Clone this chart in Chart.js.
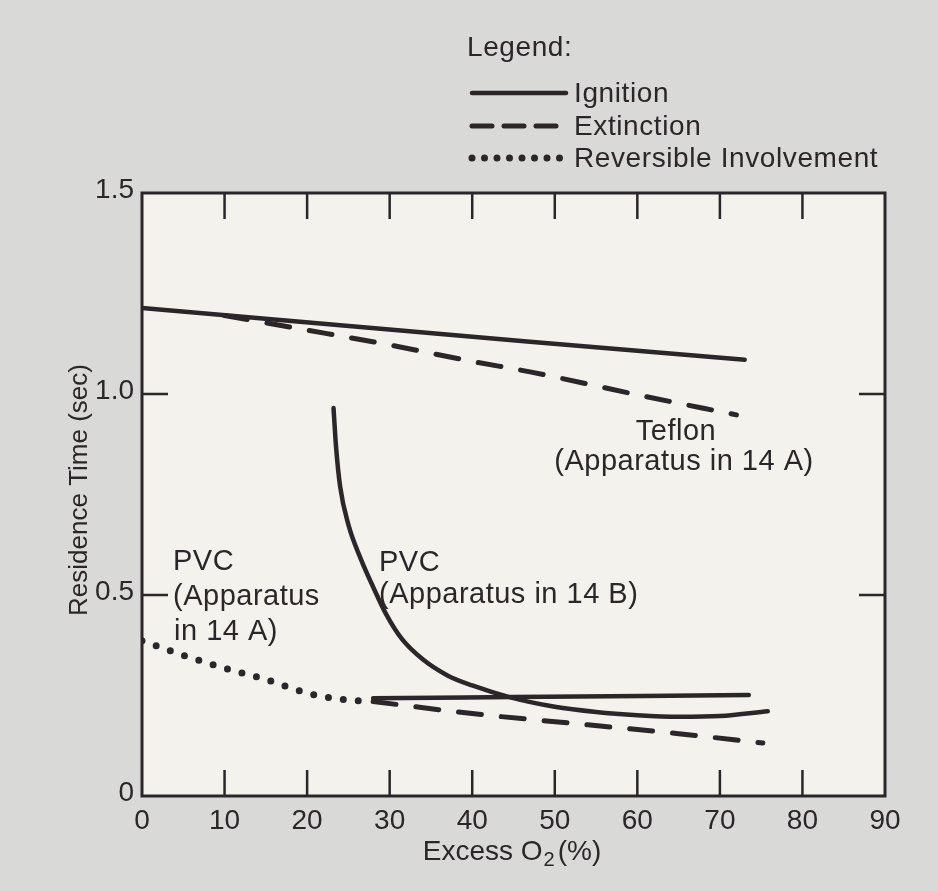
<!DOCTYPE html>
<html>
<head>
<meta charset="utf-8">
<script src="https://cdn.jsdelivr.net/npm/chart.js@4.4.1/dist/chart.umd.min.js"></script>
<style>
  html, body { margin: 0; padding: 0; background: #d9d9d8; }
  canvas { display: block; }
</style>
</head>
<body>
<canvas id="chart" width="938" height="891"></canvas>
<script>
// axis ticks
const xTicks = [0, 10, 20, 30, 40, 50, 60, 70, 80, 90];
const yTicks = [0, 0.5, 1.0, 1.5];
const yTickLabels = ['0', '0.5', '1.0', '1.5'];

// Teflon (apparatus 14 A)
const teflonIgnX = [0, 47, 73];
const teflonIgnY = [1.214, 1.13, 1.085];
const teflonExtX = [10, 20, 30, 40, 47, 60, 72];
const teflonExtY = [1.195, 1.159, 1.122, 1.081, 1.055, 0.998, 0.948];

// PVC (apparatus 14 B)
const pvcBCurveX = [23.2, 23.5, 24, 25, 26.5, 28, 29.5, 31.5, 34, 37, 40, 44.5, 50, 55, 60, 65, 70, 75.8];
const pvcBCurveY = [0.965, 0.87, 0.77, 0.675, 0.59, 0.52, 0.455, 0.39, 0.34, 0.3, 0.275, 0.246, 0.222, 0.209, 0.201, 0.197, 0.199, 0.211];
const pvcBIgnX = [28, 45, 73.5];
const pvcBIgnY = [0.243, 0.246, 0.251];
const pvcBExtX = [28, 40, 54, 65, 75.2];
const pvcBExtY = [0.235, 0.205, 0.177, 0.155, 0.132];

// PVC (apparatus 14 A) reversible involvement
const pvcARevX = [0, 5, 10, 15, 20, 24, 28];
const pvcARevY = [0.386, 0.35, 0.318, 0.29, 0.256, 0.241, 0.235];

const INK = '#2b2728';
const FONT = '"Liberation Sans", Arial, sans-serif';
const SOLID = [];
const DASH = [23, 20];
const DOTS = [0, 15];

function pts(xs, ys) {
    return xs.map((x, i) => ({ x: x, y: ys[i] }));
}

function series(xs, ys, dash, width) {
    return {
        data: pts(xs, ys),
        showLine: true,
        borderColor: INK,
        borderWidth: width,
        borderDash: dash,
        borderCapStyle: 'round',
        borderJoinStyle: 'round',
        cubicInterpolationMode: 'monotone',
        pointRadius: 0,
        fill: false
    };
}

const paper = {
    id: 'paper',
    beforeDraw(chart) {
        const { ctx, chartArea: a } = chart;
        ctx.save();
        ctx.fillStyle = '#d9d9d8';
        ctx.fillRect(0, 0, chart.width, chart.height);
        ctx.fillStyle = '#f3f2ec';
        ctx.fillRect(a.left, a.top, a.right - a.left, a.bottom - a.top);
        ctx.restore();
    },
    afterDatasetsDraw(chart) {
        const { ctx, chartArea: a, scales } = chart;
        const sx = scales.x, sy = scales.y;
        ctx.save();
        ctx.strokeStyle = INK;
        ctx.fillStyle = INK;

        // frame
        ctx.lineWidth = 3;
        ctx.strokeRect(a.left, a.top, a.right - a.left, a.bottom - a.top);

        // inner ticks
        ctx.lineWidth = 2.5;
        const len = 26;
        ctx.beginPath();
        xTicks.slice(1, -1).forEach(v => {
            const px = sx.getPixelForValue(v);
            ctx.moveTo(px, a.bottom); ctx.lineTo(px, a.bottom - len);
            ctx.moveTo(px, a.top); ctx.lineTo(px, a.top + len);
        });
        yTicks.slice(1, -1).forEach(v => {
            const py = sy.getPixelForValue(v);
            ctx.moveTo(a.left, py); ctx.lineTo(a.left + len, py);
            ctx.moveTo(a.right, py); ctx.lineTo(a.right - len, py);
        });
        ctx.stroke();

        // tick labels
        ctx.font = '28px ' + FONT;
        ctx.textBaseline = 'middle';
        ctx.textAlign = 'center';
        xTicks.forEach(v => ctx.fillText(String(v), sx.getPixelForValue(v), a.bottom + 25));
        ctx.textAlign = 'right';
        yTicks.forEach((v, i) => ctx.fillText(yTickLabels[i], a.left - 8, sy.getPixelForValue(v) - 3));

        // axis titles
        ctx.textAlign = 'left';
        const t1 = 'Excess O', t3 = '(%)';
        ctx.font = '28px ' + FONT;
        const w1 = ctx.measureText(t1).width;
        ctx.font = '20px ' + FONT;
        const w2 = ctx.measureText('2').width;
        ctx.font = '28px ' + FONT;
        const w3 = ctx.measureText(t3).width;
        let tx = 512 - (w1 + w2 + 4 + w3) / 2;
        const ty = a.bottom + 56;
        ctx.fillText(t1, tx, ty);
        ctx.font = '20px ' + FONT;
        ctx.fillText('2', tx + w1 + 1, ty + 8);
        ctx.font = '28px ' + FONT;
        ctx.fillText(t3, tx + w1 + w2 + 4, ty);

        ctx.save();
        ctx.translate(80, 490);
        ctx.rotate(-Math.PI / 2);
        ctx.textAlign = 'center';
        ctx.font = '26px ' + FONT;
        ctx.fillText('Residence Time (sec)', 0, 0);
        ctx.restore();

        // curve annotations
        ctx.font = '29px ' + FONT;
        ctx.letterSpacing = '0.5px';
        ctx.textAlign = 'center';
        ctx.fillText('Teflon', 676, 432);
        ctx.fillText('(Apparatus in 14 A)', 684, 462);
        ctx.textAlign = 'left';
        ctx.fillText('PVC', 379, 563);
        ctx.fillText('(Apparatus in 14 B)', 379, 595);
        ctx.fillText('PVC', 173, 562);
        ctx.fillText('(Apparatus', 173, 597);
        ctx.fillText('in 14 A)', 174, 632);

        // legend
        ctx.font = '28px ' + FONT;
        ctx.letterSpacing = '0.6px';
        ctx.fillText('Legend:', 467, 48);
        const rows = [
            { label: 'Ignition', dash: SOLID, w: 4.5, y: 93 },
            { label: 'Extinction', dash: [20, 12], w: 5, y: 126 },
            { label: 'Reversible Involvement', dash: [0, 12.5], w: 7, y: 158 }
        ];
        rows.forEach(r => {
            ctx.save();
            ctx.lineWidth = r.w;
            ctx.lineCap = 'round';
            ctx.setLineDash(r.dash);
            ctx.beginPath();
            ctx.moveTo(472, r.y);
            ctx.lineTo(566, r.y);
            ctx.stroke();
            ctx.restore();
            ctx.fillText(r.label, 574, r.y + 1);
        });

        ctx.restore();
    }
};

new Chart(document.getElementById('chart').getContext('2d'), {
    type: 'scatter',
    data: {
        datasets: [
            series(teflonIgnX, teflonIgnY, SOLID, 4.5),
            series(teflonExtX, teflonExtY, DASH, 5),
            series(pvcBCurveX, pvcBCurveY, SOLID, 4.5),
            series(pvcBIgnX, pvcBIgnY, SOLID, 4.5),
            series(pvcBExtX, pvcBExtY, DASH, 5),
            series(pvcARevX, pvcARevY, DOTS, 7)
        ]
    },
    options: {
        responsive: false,
        animation: false,
        layout: { padding: { left: 142, right: 53, top: 193, bottom: 95 } },
        plugins: {
            legend: { display: false },
            tooltip: { enabled: false }
        },
        scales: {
            x: { type: 'linear', min: 0, max: 90, display: false },
            y: { type: 'linear', min: 0, max: 1.5, display: false }
        }
    },
    plugins: [paper]
});
</script>
</body>
</html>
